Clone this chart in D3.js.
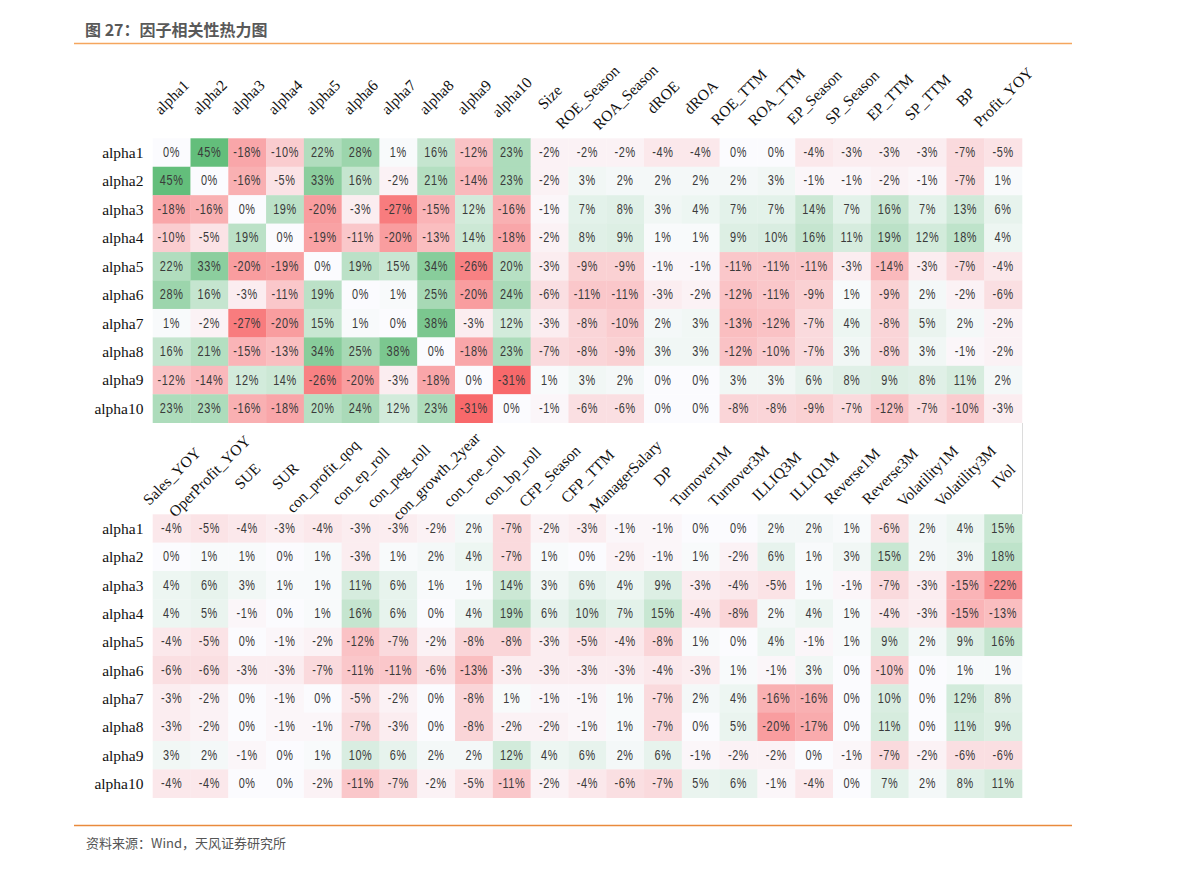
<!DOCTYPE html>
<html>
<head>
<meta charset="utf-8">
<script src="https://cdn.jsdelivr.net/npm/d3@7/dist/d3.min.js"></script>
<style>
  html, body { margin: 0; padding: 0; background: #fff; }
  svg { display: block; }
</style>
</head>
<body>
<svg id="chart" width="1191" height="869"></svg>
<script>
const rows = ["alpha1","alpha2","alpha3","alpha4","alpha5","alpha6","alpha7","alpha8","alpha9","alpha10"];

const colsTop = ["alpha1","alpha2","alpha3","alpha4","alpha5","alpha6","alpha7","alpha8","alpha9","alpha10",
  "Size","ROE_Season","ROA_Season","dROE","dROA","ROE_TTM","ROA_TTM","EP_Season","SP_Season","EP_TTM","SP_TTM","BP","Profit_YOY"];

const colsBottom = ["Sales_YOY","OperProfit_YOY","SUE","SUR","con_profit_qoq","con_ep_roll","con_peg_roll","con_growth_2year",
  "con_roe_roll","con_bp_roll","CFP_Season","CFP_TTM","ManagerSalary","DP","Turnover1M","Turnover3M","ILLIQ3M","ILLIQ1M",
  "Reverse1M","Reverse3M","Volatility1M","Volatility3M","IVol"];

// values in percent
const valuesTop = [
  [0,45,-18,-10,22,28,1,16,-12,23,-2,-2,-2,-4,-4,0,0,-4,-3,-3,-3,-7,-5],
  [45,0,-16,-5,33,16,-2,21,-14,23,-2,3,2,2,2,2,3,-1,-1,-2,-1,-7,1],
  [-18,-16,0,19,-20,-3,-27,-15,12,-16,-1,7,8,3,4,7,7,14,7,16,7,13,6],
  [-10,-5,19,0,-19,-11,-20,-13,14,-18,-2,8,9,1,1,9,10,16,11,19,12,18,4],
  [22,33,-20,-19,0,19,15,34,-26,20,-3,-9,-9,-1,-1,-11,-11,-11,-3,-14,-3,-7,-4],
  [28,16,-3,-11,19,0,1,25,-20,24,-6,-11,-11,-3,-2,-12,-11,-9,1,-9,2,-2,-6],
  [1,-2,-27,-20,15,1,0,38,-3,12,-3,-8,-10,2,3,-13,-12,-7,4,-8,5,2,-2],
  [16,21,-15,-13,34,25,38,0,-18,23,-7,-8,-9,3,3,-12,-10,-7,3,-8,3,-1,-2],
  [-12,-14,12,14,-26,-20,-3,-18,0,-31,1,3,2,0,0,3,3,6,8,9,8,11,2],
  [23,23,-16,-18,20,24,12,23,-31,0,-1,-6,-6,0,0,-8,-8,-9,-7,-12,-7,-10,-3]
];

const valuesBottom = [
  [-4,-5,-4,-3,-4,-3,-3,-2,2,-7,-2,-3,-1,-1,0,0,2,2,1,-6,2,4,15],
  [0,1,1,0,1,-3,1,2,4,-7,1,0,-2,-1,1,-2,6,1,3,15,2,3,18],
  [4,6,3,1,1,11,6,1,1,14,3,6,4,9,-3,-4,-5,1,-1,-7,-3,-15,-22],
  [4,5,-1,0,1,16,6,0,4,19,6,10,7,15,-4,-8,2,4,1,-4,-3,-15,-13],
  [-4,-5,0,-1,-2,-12,-7,-2,-8,-8,-3,-5,-4,-8,1,0,4,-1,1,9,2,9,16],
  [-6,-6,-3,-3,-7,-11,-11,-6,-13,-3,-3,-3,-3,-4,-3,1,-1,3,0,-10,0,1,1],
  [-3,-2,0,-1,0,-5,-2,0,-8,1,-1,-1,1,-7,2,4,-16,-16,0,10,0,12,8],
  [-3,-2,0,-1,-1,-7,-3,0,-8,-2,-2,-1,1,-7,0,5,-20,-17,0,11,0,11,9],
  [3,2,-1,0,1,10,6,2,2,12,4,6,2,6,-1,-2,-2,0,-1,-7,-2,-6,-6],
  [-4,-4,0,0,-2,-11,-7,-2,-5,-11,-2,-4,-6,-7,5,6,-1,-4,0,7,2,8,11]
];

const titleText = "图 27：因子相关性热力图";
const sourceText = "资料来源：Wind，天风证券研究所";

const svg = d3.select("#chart");

// shared colour scale (Excel-like 3-colour scale)
const allVals = valuesTop.flat().concat(valuesBottom.flat());
const color = d3.scaleLinear()
  .domain([d3.min(allVals), 0, d3.max(allVals)])
  .range(["#F8696B", "#FBFBFE", "#63BE7B"])
  .interpolate(d3.interpolateRgb);

// title
svg.append("text")
  .attr("x", 85).attr("y", 29)
  .attr("dominant-baseline", "central")
  .attr("font-family", "'Noto Sans CJK SC', sans-serif")
  .attr("font-weight", "bold")
  .attr("font-size", 16)
  .attr("fill", "#595959")
  .text(titleText);
svg.append("line")
  .attr("x1", 74).attr("x2", 1072).attr("y1", 43.5).attr("y2", 43.5)
  .attr("stroke", "#F5A65E").attr("stroke-width", 1.5);

// footer
svg.append("line")
  .attr("x1", 74).attr("x2", 1072).attr("y1", 825.5).attr("y2", 825.5)
  .attr("stroke", "#E98A3C").attr("stroke-width", 1.5);
svg.append("text")
  .attr("x", 86).attr("y", 842)
  .attr("dominant-baseline", "central")
  .attr("font-family", "'Noto Sans CJK SC', sans-serif")
  .attr("font-size", 13)
  .attr("fill", "#555")
  .text(sourceText);

function drawHeatmap(cols, values, y0, y1, labelY) {
  const x = d3.scaleBand().domain(cols).range([152.7, 1022]).padding(0);
  const y = d3.scaleBand().domain(rows).range([y0, y1]).padding(0);
  const g = svg.append("g");

  const cells = [];
  values.forEach((r, i) => r.forEach((v, j) => cells.push({ row: rows[i], col: cols[j], v })));

  g.selectAll("rect").data(cells).join("rect")
    .attr("x", d => x(d.col))
    .attr("y", d => y(d.row))
    .attr("width", x.bandwidth() + 0.3)
    .attr("height", y.bandwidth() + 0.3)
    .attr("fill", d => color(d.v));

  g.selectAll("text.val").data(cells).join("text")
    .attr("class", "val")
    .attr("transform", d => `translate(${x(d.col) + x.bandwidth() / 2},${y(d.row) + y.bandwidth() / 2}) scale(0.78,1)`)
    .attr("text-anchor", "middle")
    .attr("dominant-baseline", "central")
    .attr("font-family", "'Liberation Sans', Arial, sans-serif")
    .attr("font-size", 14)
    .attr("letter-spacing", 0.8)
    .attr("fill", "#3a3a3a")
    .text(d => d.v + "%");

  // row labels
  const yAxis = d3.axisLeft(y).tickSize(0).tickPadding(0);
  const ya = g.append("g").attr("transform", "translate(143.5,0)").call(yAxis);
  ya.select(".domain").remove();
  ya.selectAll("text")
    .attr("font-family", "'Liberation Serif', 'Times New Roman', serif")
    .attr("font-size", 15.5)
    .attr("fill", "#111")
    .attr("dy", "0.35em");

  // column labels (rotated)
  const xAxis = d3.axisTop(x).tickSize(0).tickPadding(0);
  const xa = g.append("g").attr("transform", `translate(0,${labelY})`).call(xAxis);
  xa.select(".domain").remove();
  xa.selectAll("text")
    .attr("font-family", "'Liberation Serif', 'Times New Roman', serif")
    .attr("font-size", 15.5)
    .attr("fill", "#111")
    .attr("text-anchor", "middle")
    .attr("dominant-baseline", "central")
    .attr("y", 0)
    .attr("dy", null)
    .attr("transform", "rotate(-45)");
}

drawHeatmap(colsTop, valuesTop, 138.3, 422.7, 97);
drawHeatmap(colsBottom, valuesBottom, 514.3, 797.7, 476);

// faint frame edge between the two blocks
svg.append("line")
  .attr("x1", 1022.5).attr("x2", 1022.5).attr("y1", 423).attr("y2", 514)
  .attr("stroke", "#dcdcdc").attr("stroke-width", 1);
</script>
</body>
</html>
